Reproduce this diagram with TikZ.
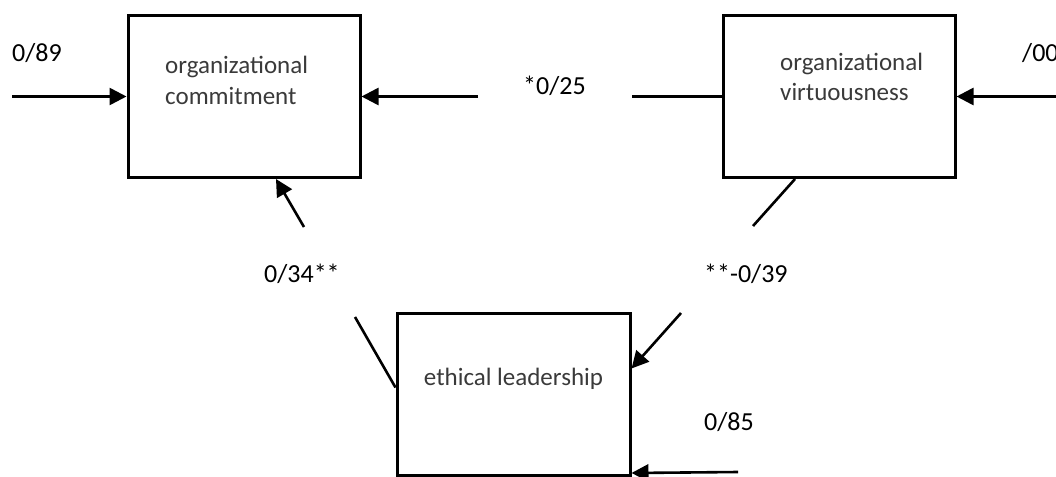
\documentclass[tikz,border=0pt]{standalone}
\usepackage{fontspec}
\setmainfont{Carlito}
\usetikzlibrary{arrows.meta}
\definecolor{boxtext}{HTML}{3A3A3A}

\begin{document}
\begin{tikzpicture}[x=1pt,y=-1pt,
  var/.style={draw, line width=3pt, minimum width=232pt, minimum height=162pt, inner sep=0pt},
  vartext/.style={inner sep=0pt, text=boxtext, font=\fontsize{25}{30}\selectfont},
  coef/.style={inner sep=0pt, anchor=base west, font=\fontsize{26}{30}\selectfont},
  arr/.style={line width=2.6pt, -{Triangle[length=17pt,width=17pt]}},
  ln/.style={line width=2.6pt}]
\useasboundingbox (0,0) rectangle (1056,476);
\node [var] (com) at (244,96.5) {};
\node [var] (vir) at (839,96.5) {};
\node [var, minimum width=233pt] (eth) at (513.5,394.5) {};
\node [vartext, anchor=base west] (comA) at (165,74) {organizational};
\node [vartext, anchor=base west] (comB) at (165,105) {commitment};
\node [vartext, anchor=base west] (virA) at (780,71) {organizational};
\node [vartext, anchor=base west] (virB) at (780,100) {virtuousness};
\node [vartext, anchor=base] (ethA) at (513.5,385) {ethical leadership};
\node [coef] (c1) at (12,62) {0/89};
\node [coef] (c2) at (523,95) {*0/25};
\node [coef] (c3) at (1022,62) {/00};
\node [coef] (c4) at (264,282) {0/34**};
\node [coef] (c5) at (704,282) {**-0/39};
\node [coef] (c6) at (704,430) {0/85};
\coordinate (e1) at (12,96.5);
\coordinate (e2) at (478,96.5);
\coordinate (e3) at (632,96.5);
\coordinate (e4) at (1062,96.5);
\coordinate (e5) at (304,227);
\coordinate (e6) at (355,317);
\coordinate (e7) at (753,226);
\coordinate (e8) at (681,313);
\coordinate (e9) at (738,472);
\draw [arr] (e1) -- (com.west);
\draw [arr] (e2) -- (com.east);
\draw [ln] (vir.west) -- (e3);
\draw [arr] (e4) -- (vir.east);
\draw [arr] (e5) -- ([xshift=32pt]com.south);
\draw [ln] ([yshift=7pt]eth.west) -- (e6);
\draw [ln] ([xshift=-44pt]vir.south) -- (e7);
\draw [arr] (e8) -- ([yshift=26pt]eth.east);
\draw [arr] (e9) -- ([yshift=4pt]eth.south east);
\end{tikzpicture}
\end{document}
